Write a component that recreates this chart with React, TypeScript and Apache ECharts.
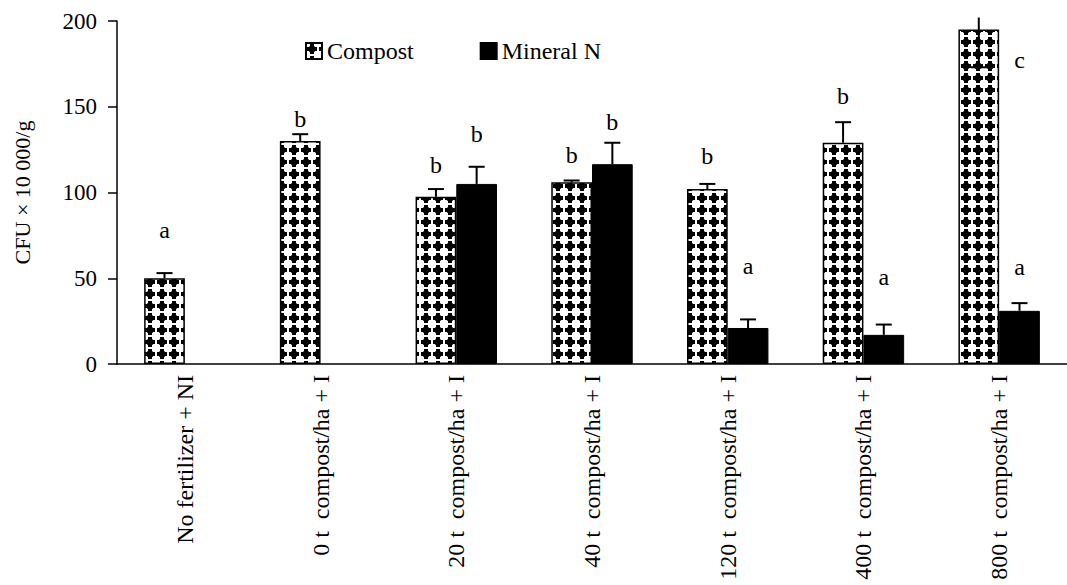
import React, { useEffect, useRef } from "react";
import * as echarts from "echarts";

const categories = [
  "No fertilizer + NI",
  "0 t  compost/ha + I",
  "20 t  compost/ha + I",
  "40 t  compost/ha + I",
  "120 t  compost/ha + I",
  "400 t  compost/ha + I",
  "800 t  compost/ha + I",
];
const compostValues = [50, 130, 97.5, 106, 102, 129, 195];
const mineralValues: (number | null)[] = [null, null, 105, 116.5, 21, 17, 31];

// error bars: line drawn from "start" to "cap" (cap drawn at "cap")
const compostErrStart = [50, 130, 97.5, 106, 102, 129, 202];
const compostErrCap = [53, 134, 102, 107, 105, 141, 173];
const mineralErrStart: (number | null)[] = [null, null, 105, 116.5, 21, 17, 31];
const mineralErrCap: (number | null)[] = [null, null, 115, 129, 26, 23, 35.5];

// significance letters
const letterText = ["a", "b", "b", "b", "b", "b", "b", "a", "b", "a", "c", "a"];
const letterCategory = [0, 1, 2, 2, 3, 3, 4, 4, 5, 5, 6, 6];
const letterSide = [-1, -1, -1, 1, -1, 1, -1, 1, -1, 1, 1, 1];
const letterValue = [78, 143, 116, 134, 122, 141, 121, 57, 156, 51, 177, 56.5];

const yTicks = { min: 0, max: 200, interval: 50 };
const FONT = "'Liberation Serif', serif";

function makePattern(): string {
  const c = document.createElement("canvas");
  c.width = 12;
  c.height = 12;
  const g = c.getContext("2d")!;
  g.fillStyle = "#fff";
  g.fillRect(0, 0, 12, 12);
  g.fillStyle = "#000";
  g.fillRect(4, 1, 4, 10);
  g.fillRect(1, 4, 10, 4);
  g.beginPath();
  g.arc(6, 6, 3.6, 0, Math.PI * 2);
  g.fill();
  return c.toDataURL();
}

export default function App() {
  const ref = useRef<HTMLDivElement>(null);
  useEffect(() => {
    document.body.style.margin = "0";
    const chart = echarts.init(ref.current!, undefined, { renderer: "svg" });
    const pattern = { image: makePattern(), repeat: "repeat" as const };

    const errData: number[][] = [];
    compostValues.forEach((_, i) => {
      errData.push([i, compostErrStart[i], compostErrCap[i], -1]);
    });
    mineralValues.forEach((v, i) => {
      if (v != null && mineralErrStart[i] != null && mineralErrCap[i] != null) {
        errData.push([i, mineralErrStart[i] as number, mineralErrCap[i] as number, 1]);
      }
    });
    const letterData = letterText.map((t, i) => [letterCategory[i], letterValue[i], letterSide[i], t]);

    chart.setOption({
      animation: false,
      textStyle: { fontFamily: FONT, color: "#000" },
      legend: {
        left: 300,
        top: 34,
        itemWidth: 16,
        itemHeight: 16,
        itemGap: 66,
        textStyle: { fontSize: 24, fontFamily: FONT, color: "#000" },
        data: [
          { name: "Compost", icon: "rect" },
          { name: "Mineral N", icon: "rect" },
        ],
      },
      grid: { left: 117, right: -8, top: 21, bottom: 221, containLabel: false },
      xAxis: {
        type: "category",
        data: categories,
        axisLine: { lineStyle: { color: "#000", width: 1.5 } },
        axisTick: { length: 10, lineStyle: { color: "#000", width: 1.5 } },
        axisLabel: {
          rotate: 90,
          interval: 0,
          margin: 11,
          fontSize: 24,
          fontFamily: FONT,
          color: "#000",
        },
      },
      yAxis: {
        type: "value",
        min: yTicks.min,
        max: yTicks.max,
        interval: yTicks.interval,
        name: "CFU × 10 000/g",
        nameLocation: "middle",
        nameRotate: 90,
        nameGap: 84,
        nameTextStyle: { fontSize: 22, fontFamily: FONT, color: "#000" },
        splitLine: { show: false },
        axisLine: { show: true, lineStyle: { color: "#000", width: 1.5 } },
        axisTick: { show: true, length: 9, lineStyle: { color: "#000", width: 1.5 } },
        axisLabel: { margin: 20, fontSize: 23, fontFamily: FONT, color: "#000" },
      },
      series: [
        {
          name: "Compost",
          type: "bar",
          data: compostValues,
          barGap: "0%",
          barCategoryGap: "40%",
          itemStyle: { color: pattern, borderColor: "#000", borderWidth: 1.5 },
        },
        {
          name: "Mineral N",
          type: "bar",
          data: mineralValues.map((v) => (v == null ? "-" : v)),
          barGap: "0%",
          barCategoryGap: "40%",
          itemStyle: { color: "#000", borderColor: "#000", borderWidth: 1 },
        },
        {
          type: "custom",
          data: errData,
          encode: { x: 0, y: [1, 2] },
          z: 5,
          renderItem: (params: any, api: any) => {
            const cat = api.value(0);
            const from = api.value(1);
            const to = api.value(2);
            const side = api.value(3);
            const catW = api.size([1, 0])[0];
            const p1 = api.coord([cat, from]);
            const p2 = api.coord([cat, to]);
            const x = p1[0] + side * catW * 0.15;
            const cap = 8;
            return {
              type: "group",
              children: [
                { type: "line", shape: { x1: x, y1: p1[1], x2: x, y2: p2[1] }, style: { stroke: "#000", lineWidth: 2 } },
                { type: "line", shape: { x1: x - cap, y1: p2[1], x2: x + cap, y2: p2[1] }, style: { stroke: "#000", lineWidth: 2 } },
              ],
            };
          },
        },
        {
          type: "custom",
          data: letterData,
          encode: { x: 0, y: 1 },
          z: 6,
          renderItem: (params: any, api: any) => {
            const cat = api.value(0);
            const val = api.value(1);
            const side = api.value(2);
            const txt = letterText[params.dataIndex];
            const catW = api.size([1, 0])[0];
            const p = api.coord([cat, val]);
            return {
              type: "text",
              x: p[0] + side * catW * 0.15,
              y: p[1],
              style: {
                text: txt,
                fontSize: 24,
                fontFamily: FONT,
                fill: "#000",
                align: "center",
                verticalAlign: "middle",
              },
            };
          },
        },
      ],
    });
    return () => chart.dispose();
  }, []);
  return <div ref={ref} style={{ width: 1067, height: 585 }} />;
}
